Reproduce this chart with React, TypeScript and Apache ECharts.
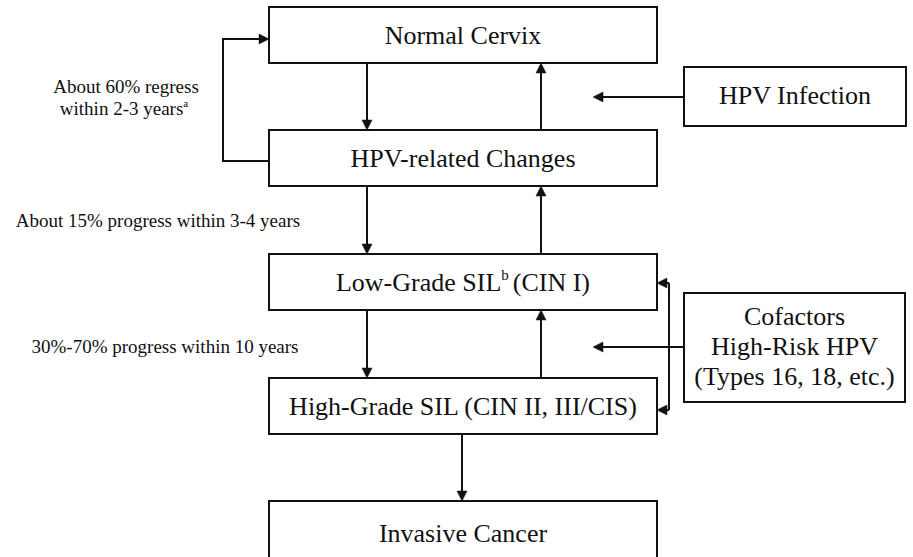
import React, { useEffect, useRef } from "react";
import * as echarts from "echarts";

// ---- Content (data) ----
const stageLabels = [
  "Normal Cervix",
  "HPV-related Changes",
  "Low-Grade SIL|b|(CIN I)",
  "High-Grade SIL (CIN II, III/CIS)",
  "Invasive Cancer",
];
const factorLabels = ["HPV Infection", "Cofactors\nHigh-Risk HPV\n(Types 16, 18, etc.)"];
const noteLines = [
  ["About 60% regress", "within 2-3 years|a"],
  ["About 15% progress within 3-4 years"],
  ["30%-70% progress within 10 years"],
];

// ---- Layout ----
const FONT = '"Liberation Serif", "Times New Roman", Times, serif';
const STAGE_X = 269;
const STAGE_W = 388;
const STAGE_H = 56;
const STAGE_TOPS = [7, 130, 254, 378, 501];
const FACTOR_BOXES = [
  { x: 684, y: 67, w: 222, h: 59 },
  { x: 684, y: 293, w: 221, h: 109 },
];
const DOWN_X = 367;
const UP_X = 541;
const INK = "#111";
const LW = 2;
const HEAD_L = 10;
const HEAD_W = 5;

function richText(label: string, x: number, y: number, size: number, supSize: number) {
  const lines = label.split("\n");
  const out = lines
    .map((ln) => {
      const parts = ln.split("|");
      return parts
        .map((p, i) => (i % 2 === 1 ? `{s|${p}}` : p.length ? `{m|${p}}` : ""))
        .join("");
    })
    .join("\n");
  return {
    type: "text",
    x,
    y,
    z: 10,
    style: {
      text: out,
      align: "center",
      verticalAlign: "middle",
      textAlign: "center",
      textVerticalAlign: "middle",
      rich: {
        m: {
          fontFamily: FONT,
          fontSize: size,
          lineHeight: Math.round(size * 1.15),
          fill: INK,
          verticalAlign: "middle",
        },
        s: {
          fontFamily: FONT,
          fontSize: supSize,
          lineHeight: Math.round(supSize * 1.0),
          fill: INK,
          verticalAlign: "top",
          padding: [0, 4, 0, 0],
        },
      },
    },
  };
}

function arrow(points: number[][]) {
  const n = points.length;
  const [tx, ty] = points[n - 1];
  const [px, py] = points[n - 2];
  const dx = tx - px;
  const dy = ty - py;
  const len = Math.hypot(dx, dy);
  const ux = dx / len;
  const uy = dy / len;
  const bx = tx - ux * HEAD_L;
  const by = ty - uy * HEAD_L;
  const linePts = points.slice(0, n - 1).concat([[bx + ux * 1, by + uy * 1]]);
  return [
    {
      type: "polyline",
      shape: { points: linePts },
      style: { stroke: INK, lineWidth: LW, fill: null },
      z: 5,
    },
    {
      type: "polygon",
      shape: {
        points: [
          [tx, ty],
          [bx - uy * HEAD_W, by + ux * HEAD_W],
          [bx + uy * HEAD_W, by - ux * HEAD_W],
        ],
      },
      style: { fill: INK, stroke: INK, lineWidth: 0.5 },
      z: 5,
    },
  ];
}

export default function App() {
  const ref = useRef<HTMLDivElement>(null);
  useEffect(() => {
    if (!ref.current) return;
    const chart = echarts.init(ref.current, undefined, { renderer: "svg" });
    const els: any[] = [];

    els.push({ type: "rect", shape: { x: 0, y: 0, width: 913, height: 557 }, style: { fill: "#fff" }, z: 0 });

    stageLabels.forEach((lab, i) => {
      const top = STAGE_TOPS[i];
      const h = i === stageLabels.length - 1 ? 70 : STAGE_H;
      els.push({
        type: "rect",
        shape: { x: STAGE_X, y: top, width: STAGE_W, height: h },
        style: { fill: "#fff", stroke: INK, lineWidth: LW },
        z: 2,
      });
      const cy = i === stageLabels.length - 1 ? top + 32 : top + STAGE_H / 2;
      els.push(richText(lab, STAGE_X + STAGE_W / 2, cy, 26, 15));
    });

    factorLabels.forEach((lab, i) => {
      const b = FACTOR_BOXES[i];
      els.push({
        type: "rect",
        shape: { x: b.x, y: b.y, width: b.w, height: b.h },
        style: { fill: "#fff", stroke: INK, lineWidth: LW },
        z: 2,
      });
      els.push(richText(lab, b.x + b.w / 2, b.y + b.h / 2 - 1, 26, 15));
    });

    for (let i = 0; i < 3; i++) {
      const bottom = STAGE_TOPS[i] + STAGE_H;
      const nextTop = STAGE_TOPS[i + 1];
      els.push(...arrow([[DOWN_X, bottom], [DOWN_X, nextTop]]));
      els.push(...arrow([[UP_X, nextTop], [UP_X, bottom]]));
    }
    els.push(...arrow([[462, STAGE_TOPS[3] + STAGE_H - 1], [462, STAGE_TOPS[4]]]));

    els.push(...arrow([[STAGE_X, 161], [223, 161], [223, 39], [STAGE_X, 39]]));

    els.push(...arrow([[684, 97], [593, 97]]));
    els.push(...arrow([[684, 347], [593, 347]]));

    els.push({
      type: "polyline",
      shape: { points: [[669, 283], [669, 410]] },
      style: { stroke: INK, lineWidth: LW, fill: null },
      z: 5,
    });
    els.push(...arrow([[669, 283], [STAGE_X + STAGE_W, 283]]));
    els.push(...arrow([[669, 410], [STAGE_X + STAGE_W, 410]]));

    els.push(richText(noteLines[0].join("\n"), 126, 97, 19, 11));
    els.push(richText(noteLines[1][0], 158, 220, 19, 11));
    els.push(richText(noteLines[2][0], 165, 346, 19, 11));

    chart.setOption({
      animation: false,
      graphic: { elements: els },
    });
    return () => chart.dispose();
  }, []);
  return (
    <div
      ref={ref}
      style={{ position: "absolute", left: 0, top: 0, width: 913, height: 557, background: "#fff" }}
    />
  );
}
